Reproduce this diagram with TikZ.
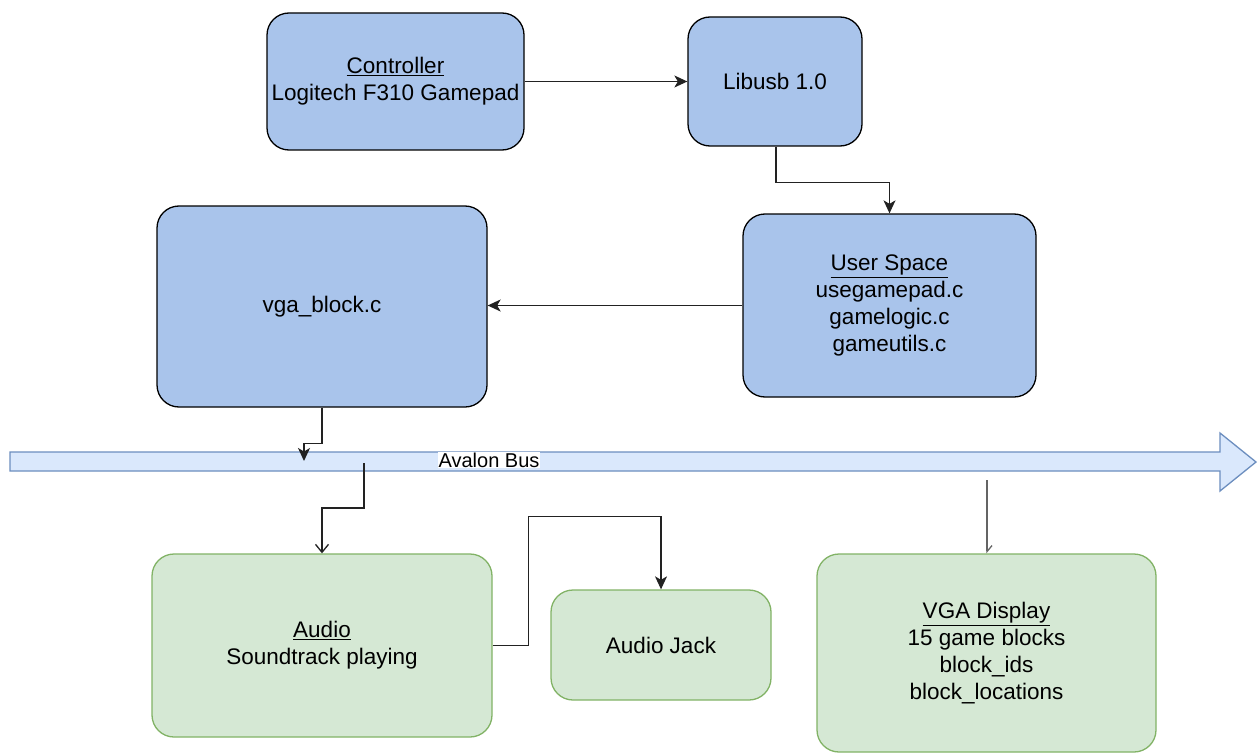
\documentclass[tikz,border=0pt]{standalone}
\usepackage{fontspec}
\setmainfont{Liberation Sans}
\usetikzlibrary{arrows.meta,calc}
\definecolor{bluefill}{HTML}{A9C4EB}
\definecolor{greenfill}{HTML}{D5E8D4}
\definecolor{greenline}{HTML}{82B366}
\definecolor{busfill}{HTML}{DAE8FC}
\definecolor{busline}{HTML}{6C8EBF}
\definecolor{wire}{HTML}{222222}
\tikzset{
  bluebox/.style={draw=black, line width=1.3pt, fill=bluefill, rounded corners=22pt, align=center, font=\fontsize{22.5}{26.8}\selectfont},
  greenbox/.style={draw=greenline, line width=1.3pt, fill=greenfill, rounded corners=22pt, align=center, font=\fontsize{22.5}{26.8}\selectfont},
  wirearrow/.style={draw=wire, line width=1.3pt, -{Stealth[length=13pt,width=12pt,inset=3.5pt]}},
  openarrow/.style={draw=wire, line width=1.3pt, -{Straight Barb[length=8pt,width=13pt]}},
}
\begin{document}
\begin{tikzpicture}[x=1pt,y=-1pt]
\useasboundingbox (0,0) rectangle (1257,754);
\fill[white] (0,0) rectangle (1257,754);

% bus
\draw[busline, line width=1.3pt, fill=busfill] (10,452) -- (1220,452) -- (1220,433) -- (1256,462) -- (1220,491) -- (1220,471) -- (10,471) -- cycle;
\node[fill=white, inner sep=1pt, font=\fontsize{20}{22}\selectfont] (buslabel) at (489,460) {Avalon Bus};
\coordinate (busin) at (304,461);
\coordinate (busout1) at (364,463);
\coordinate (busout2) at (987,480);

% boxes
\node[bluebox, minimum width=257pt, minimum height=137pt] (ctrl) at (395.5,81.5) {\underline{Controller}\\Logitech F310 Gamepad};
\node[bluebox, minimum width=174pt, minimum height=129pt] (lib) at (775,81.5) {Libusb 1.0};
\node[bluebox, minimum width=293pt, minimum height=183pt] (us) at (889.5,305.5) {\underline{User Space}\\usegamepad.c\\gamelogic.c\\gameutils.c};
\node[bluebox, minimum width=330pt, minimum height=201pt] (vga) at (322,306.5) {vga\_block.c};
\node[greenbox, minimum width=340pt, minimum height=183pt] (audio) at (322,645.5) {\underline{Audio}\\Soundtrack playing};
\node[greenbox, minimum width=220pt, minimum height=110pt] (jack) at (661,645) {Audio Jack};
\node[greenbox, minimum width=339pt, minimum height=198pt] (disp) at (986.5,653) {\underline{VGA Display}\\15 game blocks\\block\_ids\\block\_locations};

% connectors
\draw[wirearrow] (ctrl.east) -- (ctrl.east -| lib.west);
\draw[wirearrow] ([xshift=1pt]lib.south) -- ++(0,36) -| (us.north);
\draw[wirearrow] (us.west) -- (us.west -| vga.east);
\draw[wirearrow] (vga.south) -- ++(0,36) -| (busin);
\draw[openarrow] (busout1) -- ++(0,45) -| (audio.north);
\draw[wirearrow] (audio.east) -- ++(36,0) |- ($(jack.north)+(0,-73)$) -- (jack.north);
\draw[draw=wire!70, line width=1.3pt, -{Straight Barb[left, length=6pt,width=10pt]}] (busout2) -- (busout2 |- disp.north);
\end{tikzpicture}
\end{document}
